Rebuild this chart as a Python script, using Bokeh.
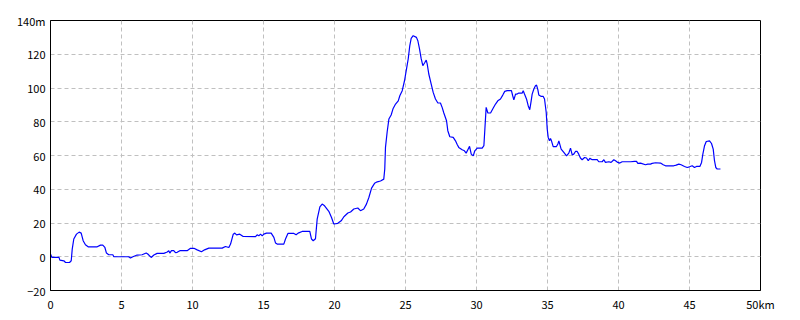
from bokeh.plotting import figure
from bokeh.models import Range1d, FixedTicker
from bokeh.embed import file_html
from bokeh.resources import INLINE

km = [0.00, 0.10, 0.60, 0.66, 0.94, 1.06, 1.34, 1.46, 1.53, 1.64, 1.83, 2.02, 2.16, 2.30, 2.46, 2.65,
      3.29, 3.52, 3.68, 3.83, 3.94, 4.10, 4.39, 4.46, 5.50, 5.63, 5.80, 6.10, 6.45, 6.74, 6.85, 7.09,
      7.28, 7.51, 7.98, 8.22, 8.33, 8.40, 8.52, 8.68, 8.80, 8.92, 9.11, 9.62, 9.86, 10.10, 10.33, 10.63,
      10.85, 11.15, 12.09, 12.32, 12.56, 12.68, 12.87, 12.98, 13.10, 13.33, 13.57, 14.44, 14.55, 14.67,
      14.79, 14.91, 15.02, 15.21, 15.54, 15.73, 15.85, 15.96, 16.43, 16.55, 16.72, 17.14, 17.30, 17.44,
      17.72, 18.26, 18.38, 18.50, 18.66, 18.78, 18.97, 19.13, 19.30, 19.60, 19.79, 19.95, 20.23, 20.47,
      20.66, 20.94, 21.13, 21.36, 21.64, 21.83, 22.06, 22.25, 22.42, 22.61, 22.82, 23.01, 23.24, 23.47,
      23.54, 23.59, 23.71, 23.83, 23.99, 24.13, 24.30, 24.49, 24.60, 24.77, 24.93, 25.07, 25.19, 25.30,
      25.40, 25.54, 25.77, 25.87, 25.99, 26.10, 26.22, 26.36, 26.46, 26.53, 26.64, 26.81, 26.95, 27.11,
      27.28, 27.46, 27.58, 27.70, 27.89, 27.98, 28.12, 28.36, 28.52, 28.64, 28.75, 28.99, 29.15, 29.27,
      29.39, 29.51, 29.63, 29.77, 29.88, 30.05, 30.40, 30.52, 30.59, 30.68, 30.80, 30.99, 31.18, 31.34,
      31.50, 31.69, 31.85, 31.99, 32.16, 32.46, 32.55, 32.63, 32.75, 32.86, 32.98, 33.22, 33.29, 33.38,
      33.52, 33.64, 33.75, 33.85, 33.92, 34.04, 34.15, 34.23, 34.32, 34.39, 34.56, 34.70, 34.79, 34.91,
      34.98, 35.05, 35.14, 35.21, 35.28, 35.40, 35.63, 35.73, 35.80, 35.96, 36.15, 36.34, 36.50, 36.62,
      36.74, 36.85, 36.97, 37.09, 37.20, 37.32, 37.44, 37.61, 37.75, 37.87, 37.98, 38.15, 38.50, 38.61,
      38.85, 38.97, 39.08, 39.32, 39.48, 39.67, 39.79, 39.95, 40.09, 40.26, 40.85, 41.13, 41.27, 41.36,
      41.55, 41.90, 42.06, 42.25, 42.37, 42.61, 42.96, 43.15, 43.31, 43.89, 44.06, 44.25, 44.41, 44.65,
      44.84, 45.00, 45.19, 45.35, 45.49, 45.73, 45.85, 45.94, 46.06, 46.18, 46.41, 46.55, 46.67, 46.76,
      46.85, 46.95, 47.18]

elev = [1.6, -0.4, -0.4, -2.0, -2.4, -3.4, -3.4, -2.4, 4.5, 10.5, 13.4, 14.6, 14.0, 9.5, 7.1, 5.9,
        5.9, 6.9, 6.9, 5.5, 2.2, 1.2, 1.2, 0.0, 0.0, -0.8, 0.0, 1.0, 1.2, 2.2, 1.6, -0.4,
        1.0, 2.0, 2.0, 2.8, 3.6, 2.2, 3.6, 3.6, 2.4, 2.6, 3.6, 3.6, 5.0, 5.0, 4.1, 3.0,
        4.1, 5.1, 5.1, 6.1, 5.5, 7.5, 13.4, 14.0, 13.0, 13.4, 12.0, 11.9, 13.0, 12.4,
        13.4, 12.4, 13.4, 14.0, 14.0, 11.5, 8.1, 7.5, 7.5, 10.5, 13.8, 13.8, 13.0, 14.0,
        15.0, 15.0, 10.5, 9.5, 10.7, 22.3, 29.6, 31.2, 30.2, 26.9, 23.3, 19.4, 19.8, 21.3,
        23.7, 25.9, 26.5, 28.3, 28.9, 27.3, 28.3, 31.2, 35.1, 40.7, 43.5, 44.4, 44.9, 46.0,
        52.0, 64.8, 74.1, 81.6, 84.0, 87.9, 90.5, 92.4, 95.4, 98.4, 104.3, 111.2, 117.2, 125.0,
        129.4, 131.0, 130.0, 128.0, 123.0, 117.5, 113.2, 115.1, 116.5, 114.2, 108.3, 102.3, 97.4, 93.5,
        91.1, 91.1, 88.5, 85.2, 80.6, 74.7, 71.1, 70.7, 68.7, 66.5, 64.8, 63.4, 62.8, 61.4,
        63.4, 65.4, 60.8, 59.8, 62.8, 64.4, 64.4, 65.8, 75.7, 88.5, 85.2, 85.2, 88.1, 90.5,
        92.4, 93.5, 95.8, 98.0, 98.4, 98.4, 95.4, 93.0, 96.4, 96.4, 97.0, 97.0, 98.4, 96.4,
        93.5, 89.5, 87.1, 92.4, 96.4, 99.4, 101.3, 101.7, 99.0, 95.8, 95.0, 95.0, 93.5, 85.5,
        75.7, 70.7, 68.7, 70.1, 68.7, 65.3, 65.3, 66.8, 68.7, 63.8, 61.8, 59.8, 61.4, 64.4,
        60.4, 60.8, 62.4, 62.4, 60.8, 58.5, 57.5, 58.8, 58.5, 56.9, 58.3, 57.5, 57.5, 56.3,
        56.3, 57.5, 55.9, 56.3, 55.9, 57.5, 56.9, 55.9, 55.5, 56.3, 56.3, 56.5, 56.5, 55.3,
        55.5, 54.5, 54.9, 54.9, 55.3, 55.7, 55.5, 54.5, 53.9, 53.9, 54.3, 54.9, 54.5, 53.5,
        52.9, 53.3, 53.9, 52.9, 53.5, 53.5, 55.9, 60.8, 65.8, 68.3, 68.7, 67.1, 63.8, 56.9,
        52.9, 52.0, 52.0]

x_ticks = [0, 5, 10, 15, 20, 25, 30, 35, 40, 45, 50]
x_labels = ["0", "5", "10", "15", "20", "25", "30", "35", "40", "45", "50km"]
y_ticks = [-20, 0, 20, 40, 60, 80, 100, 120, 140]
y_labels = ["\u221220", "0", "20", "40", "60", "80", "100", "120", "140m"]

p = figure(width=800, height=320, output_backend="svg", toolbar_location=None,
           x_range=Range1d(0, 50), y_range=Range1d(-20, 140),
           min_border_left=50, min_border_right=40, min_border_top=20, min_border_bottom=30)
p.background_fill_color = "white"
p.border_fill_color = "white"
p.outline_line_color = "black"
p.outline_line_width = 1

p.xaxis.ticker = FixedTicker(ticks=x_ticks)
p.yaxis.ticker = FixedTicker(ticks=y_ticks)
p.xaxis.major_label_overrides = {t: l for t, l in zip(x_ticks, x_labels)}
p.yaxis.major_label_overrides = {t: l for t, l in zip(y_ticks, y_labels)}

for ax in (p.xaxis, p.yaxis):
    ax.axis_line_color = "black"
    ax.axis_line_width = 1
    ax.major_tick_in = 0
    ax.major_tick_out = 0
    ax.minor_tick_line_color = None
    ax.major_label_text_font = "Noto Sans CJK JP"
    ax.major_label_text_font_size = "11px"
    ax.major_label_text_color = "black"
    ax.major_label_standoff = 5

p.grid.grid_line_color = "#c0c0c0"
p.grid.grid_line_dash = "4 3"
p.grid.grid_line_width = 1

p.line(km, elev, line_color="#0000ff", line_width=1.2)

open("out.html", "w").write(file_html(p, INLINE))
